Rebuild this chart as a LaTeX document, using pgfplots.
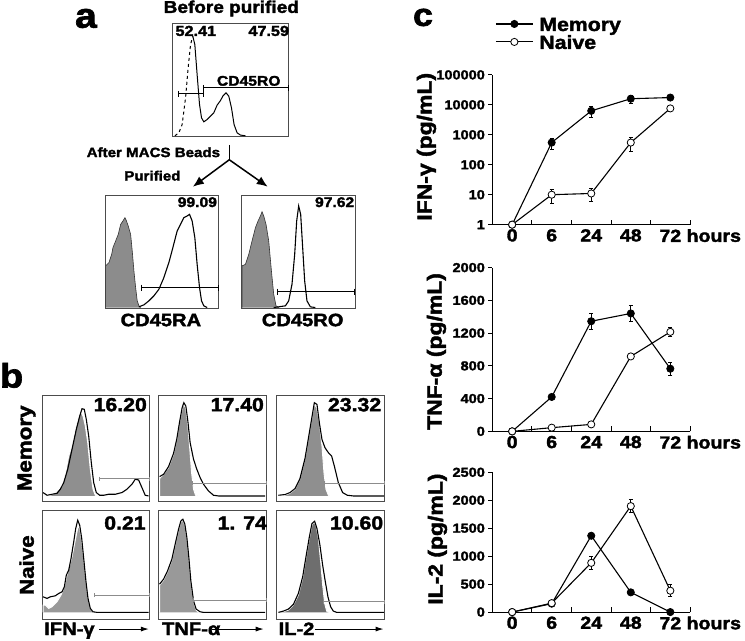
\documentclass[border=0pt]{standalone}
\usepackage{fontspec}
\setmainfont{Liberation Sans}[UprightFont=* Bold, FakeStretch=1.12, FakeBold=2]
\usepackage{pgfplots}
\pgfplotsset{compat=1.18}
\usetikzlibrary{arrows.meta}
\newcommand\fs[1]{\fontsize{#1}{#1}\selectfont}
\newcommand\xinticks{\draw[black, line width=1pt] (rel axis cs:0.2,0) -- ++(0pt,5pt) (rel axis cs:0.4,0) -- ++(0pt,5pt) (rel axis cs:0.6,0) -- ++(0pt,5pt) (rel axis cs:0.8,0) -- ++(0pt,5pt) (rel axis cs:1,0) -- ++(0pt,5pt);}
\definecolor{fa}{gray}{0.55}
\definecolor{fm}{gray}{0.56}
\definecolor{fn}{gray}{0.60}
\definecolor{fd}{gray}{0.43}
\definecolor{gatec}{gray}{0.55}
\pgfplotsset{
  hbox/.style={scale only axis, anchor=south west, y dir=reverse, xtick=\empty, ytick=\empty,
    axis line style={line width=0.9pt, black!70}, clip=false},
  hfill/.style={fill=#1, draw=white, line width=0.9pt, mark=none},
  afill/.style={fill=fa, draw=black!80, line width=0.6pt, mark=none},
  hline/.style={black, line width=1.1pt, mark=none},
  gate/.style={gatec, line width=1pt, mark=|, mark size=2pt},
  agate/.style={black, line width=0.9pt, mark=|, mark size=3pt},
  cax/.style={scale only axis, anchor=south west, width=198pt, axis lines*=left,
    xmin=-0.5, xmax=4.5, xtick={0,1,2,3,4}, xticklabels={0,6,24,48,{72\rlap{~hours}}},
    tick align=outside, major tick length=4pt, tick style={black, line width=1pt},
    major x tick style={draw=none},
    minor y tick style={draw=none},
    xticklabel style={font=\fs{17.5}, yshift=3pt}, yticklabel style={font=\fs{13}},
    axis line style={line width=1.1pt}, clip=false,
    /pgf/number format/assume math mode=true},
  mem/.style={black, line width=1.1pt, mark=*, mark size=3.6pt, mark options={fill=black, line width=0.8pt},
    error bars/.cd, y dir=both, y explicit, error bar style={line width=0.8pt, black},
    error mark options={rotate=90, mark size=2pt, line width=0.8pt, black}},
  nai/.style={black, line width=1.1pt, mark=*, mark size=3.6pt, mark options={fill=white, line width=0.8pt},
    error bars/.cd, y dir=both, y explicit, error bar style={line width=0.8pt, black},
    error mark options={rotate=90, mark size=2pt, line width=0.8pt, black}},
}
\begin{document}
\begin{tikzpicture}
\path (0pt,0pt) rectangle (745pt,641pt);

% ---------------- panel a ----------------
\begin{axis}[hbox, at={(172pt,504pt)}, width=116pt, height=114pt, xmin=172, xmax=288, ymin=23, ymax=137]
\addplot[black, line width=1pt, dashed, mark=none] coordinates {(174,136) (178,133) (181.3,124.7) (184.7,98) (187.3,68) (189.7,44.7) (192,36.3)};
\addplot[black, line width=1pt, mark=none] coordinates {(192,36.3) (194,44.7) (196.3,74.7) (198.7,104.7) (200.7,118) (203,122) (206.3,119.7) (209.7,116.3) (213,113) (216.3,105.3) (219.7,100.7) (222,96.3) (225.3,93) (228,96.3) (230.7,108) (233.3,124.7) (236.3,133) (239.7,135.3) (244.7,136)};
\addplot[agate] coordinates {(177.3,94) (203,94)};
\addplot[agate] coordinates {(203,88) (288,88)};
\end{axis}

\begin{axis}[hbox, at={(104pt,332pt)}, width=114pt, height=113pt, xmin=104, xmax=218, ymin=196, ymax=309]
\addplot[afill] coordinates {(104.7,308) (104.7,266.3) (108,263) (110.7,254.7) (112,248) (114.7,241.3) (117.3,234.7) (119.7,224.7) (122,221.3) (124,218) (125.3,220.7) (127.3,226.3) (129.7,234.7) (131.3,251.3) (133,271.3) (134.7,288) (136.3,301.3) (138,306.3) (139.7,308)};
\addplot[hline] coordinates {(138,307.3) (143,305.3) (148,301.3) (153,296.3) (158,289.7) (163,278) (168,263) (172,248) (176.3,231.3) (179.7,224.7) (183,218) (186.3,216.3) (188.7,214.7) (191.3,221.3) (194,238) (196.3,264.7) (198.7,288) (200.7,301.3) (203,306.3) (206.3,308)};
\addplot[agate] coordinates {(140.7,288) (218,288)};
\end{axis}

\begin{axis}[hbox, at={(241pt,332pt)}, width=114pt, height=113pt, xmin=241, xmax=355, ymin=196, ymax=309]
\addplot[afill] coordinates {(241.3,308) (241.3,266.3) (244.7,264.7) (248,254.7) (251.3,241.3) (254.7,228) (257.3,221.3) (259.7,216.3) (261.3,212) (263,216.3) (265.3,224.7) (268,241.3) (270.7,271.3) (273,294.7) (275.3,306.3) (278,308)};
\addplot[hline] coordinates {(273,308) (284.7,306.3) (288,301.3) (291.3,284.7) (294,254.7) (296,221.3) (298,206.3) (300,214.7) (302,248) (304,281.3) (306.3,301.3) (309.7,307.3) (314.7,308)};
\addplot[agate] coordinates {(276.3,292) (354,292)};
\end{axis}

% ---------------- panel b ----------------
\begin{axis}[hbox, at={(41pt,139pt)}, width=108pt, height=106pt, xmin=41, xmax=149, ymin=396, ymax=502]
\addplot[hfill=fm] coordinates {(42,496.7) (49.3,496) (54.3,494) (57.7,490) (61,486.7) (64.3,475) (67.7,456.7) (71,446.7) (74.3,430) (77.7,416.7) (80,412.7) (82,416.7) (84.3,426.7) (86.7,443.3) (89.3,470) (92,490) (94.3,496) (96,496.7)};
\addplot[hline] coordinates {(42,493.3) (46,496) (51,495) (56,494) (59.3,490) (62.7,483.3) (66.7,470) (71,450) (75.3,430) (78.7,416.7) (81,409.3) (83.3,410) (85.3,420) (87.7,436.7) (90.3,463.3) (92.7,483.3) (95.3,493.3) (98.7,496) (102.7,496) (107.7,495) (114.3,495) (121,493.3) (126,490) (131,485) (134.3,480) (137.7,480.7) (141,488.3) (144.3,496) (147.7,496.7)};
\addplot[gate] coordinates {(98.7,479.3) (148.3,479.3)};
\end{axis}

\begin{axis}[hbox, at={(158pt,139pt)}, width=108pt, height=106pt, xmin=158, xmax=266, ymin=396, ymax=502]
\addplot[hfill=fm] coordinates {(158.7,496.7) (158.7,479.3) (162.7,475) (167.7,468.3) (172.7,455) (176,440) (178.7,423.3) (181,411.7) (182.7,405) (184.7,408.3) (186.7,423.3) (188.7,446.7) (190.7,473.3) (192.7,490) (194.7,496) (196.7,496.7)};
\addplot[hline] coordinates {(158.7,477.3) (162.7,475) (167.7,467.3) (172.7,454) (176,439.3) (178.7,422.7) (181.3,408.3) (183,403.3) (185,406.7) (187,421.7) (189.3,443.3) (192.7,460) (196,470) (199.3,478.3) (202.7,485) (207.7,491.7) (212.7,496) (217.7,496.7) (264.3,496.7)};
\addplot[gate] coordinates {(192,484) (265.3,484)};
\end{axis}

\begin{axis}[hbox, at={(276pt,139pt)}, width=108pt, height=106pt, xmin=276, xmax=384, ymin=396, ymax=502]
\addplot[hfill=fm] coordinates {(277.7,496.7) (284.3,496) (289.3,494) (294.3,490) (299.3,480) (304.3,460) (307.7,440) (311,420) (313.7,405) (316,408.3) (318.7,423.3) (321.3,446.7) (323.3,473.3) (325.3,490) (327.7,496) (329.3,496.7)};
\addplot[hline] coordinates {(277.7,496) (284.3,495.3) (289.3,493.3) (294.3,489.3) (299.3,479.3) (304.3,459.3) (307.7,439.3) (311,419.3) (313.7,403.3) (316.3,405) (318.7,423.3) (321.3,440) (324.3,448.3) (327.7,453.3) (331,456.7) (333.7,466.7) (337.7,483.3) (342,493.3) (346.7,496) (352.7,496.7) (383.3,496.7)};
\addplot[gate] coordinates {(324.3,484) (384,484)};
\end{axis}

\begin{axis}[hbox, at={(41pt,21pt)}, width=108pt, height=109pt, xmin=41, xmax=149, ymin=511, ymax=620]
\addplot[hfill=fn] coordinates {(42,613.3) (42,606) (44.3,606) (47.7,609.3) (51,607.7) (56,602.7) (60,596) (63.3,587.7) (66,576) (68.7,566) (71,557.7) (73.3,546) (75.3,536) (77,527.7) (78.7,529.3) (80.3,539.3) (82.7,559.3) (85,582.7) (87,599.3) (89.3,609.3) (92,612.7) (93.3,613.3)};
\addplot[hline] coordinates {(42,597.7) (46,599.3) (49.3,597.7) (54.3,596.7) (57.7,594.3) (61,592.7) (63.3,587.7) (65.3,576) (67.7,571) (70,559.3) (72.7,542.7) (74.7,529.3) (76.7,521) (78.7,526) (80.7,539.3) (82.7,559.3) (85,582.7) (87,599.3) (89.3,609.3) (92,612.7) (96,613.3) (147.7,613.3)};
\addplot[gate] coordinates {(93.3,596) (148.3,596)};
\end{axis}

\begin{axis}[hbox, at={(158pt,21pt)}, width=108pt, height=109pt, xmin=158, xmax=266, ymin=511, ymax=620]
\addplot[hfill=fn] coordinates {(158.7,613.3) (158.7,586) (162.7,581) (166.7,572.7) (171,561) (174.3,546) (177.7,531) (180,522.7) (182,521) (184,526) (186,539.3) (188,559.3) (190,582.7) (192.7,602.7) (195.3,611) (197.7,613.3)};
\addplot[hline] coordinates {(158.7,585) (162.7,580) (166.7,571.7) (171,560) (174.3,545) (177.7,530) (180,521.7) (182,520) (184,525) (186,538.3) (188,558.3) (190,581.7) (192.7,601.7) (195.3,610) (199.3,612.7) (202.7,613.3) (264.3,613.3)};
\addplot[gate] coordinates {(192.7,601) (265.3,601)};
\end{axis}

\begin{axis}[hbox, at={(276pt,21pt)}, width=108pt, height=109pt, xmin=276, xmax=384, ymin=511, ymax=620]
\addplot[hfill=fd] coordinates {(277.7,613.3) (282.7,612.7) (287.7,611) (292.7,606) (297.7,596) (302,579.3) (305.3,559.3) (308.7,539.3) (311.3,526) (313.3,522.7) (315.3,526) (317.7,539.3) (320,562.7) (322,586) (324,604.3) (326,612) (328,613.3)};
\addplot[hline] coordinates {(277.7,613.3) (282.7,612) (287.7,610) (292.7,605.3) (297.7,594.3) (302,577.7) (305.3,557.7) (308.7,537.7) (311.3,524.3) (314,522) (316.3,529.3) (319.3,546) (322,566) (324.7,582.7) (327.3,597.7) (330,607.7) (332.7,612) (336,613.3) (383.3,613.3)};
\addplot[gate] coordinates {(322.7,602.7) (384,602.7)};
\end{axis}

% ---------------- panel c ----------------
\begin{axis}[cax, at={(492pt,416pt)}, height=150pt, ymode=log, ymin=1, ymax=100000,
  ytick={1,10,100,1000,10000,100000}, yticklabels={1,10,100,1000,10000,100000},
  legend style={at={(axis description cs:0.015,1.28)}, anchor=west, draw=none, fill=none,
    inner sep=0pt, outer sep=0pt, row sep=4pt, font=\fs{19},
    nodes={inner sep=0pt, text height=14pt, text depth=0pt},
    /tikz/every odd column/.append style={column sep=6pt}},
  legend cell align=left,
  legend image code/.code={\draw[mark repeat=2,mark phase=2,#1] plot coordinates {(0pt,0pt) (18.5pt,0pt) (37pt,0pt)};}]
\addplot[mem] coordinates {(0,1) +- (0,0) (1,550) +- (0,230) (2,6300) +- (0,2500) (3,16000) +- (0,5000) (4,17500) +- (0,2000)};
\addplot[nai] coordinates {(0,1) +- (0,0) (1,10) +- (0,5) (2,11) +- (0,5) (3,550) +- (0,280) (4,7600) +- (0,1500)};
\legend{Memory, Naive}
\xinticks
\end{axis}

\begin{axis}[cax, at={(492pt,209pt)}, height=164pt, ymin=0, ymax=2000,
  ytick={0,400,800,1200,1600,2000}, yticklabels={0,400,800,1200,1600,2000}]
\addplot[mem] coordinates {(0,0) +- (0,0) (1,420) +- (0,20) (2,1345) +- (0,100) (3,1440) +- (0,100) (4,765) +- (0,80)};
\addplot[nai] coordinates {(0,0) +- (0,0) (1,45) +- (0,10) (2,85) +- (0,10) (3,915) +- (0,30) (4,1215) +- (0,50)};
\xinticks
\end{axis}

\begin{axis}[cax, at={(492pt,28pt)}, height=140pt, ymin=0, ymax=2500,
  ytick={0,500,1000,1500,2000,2500}, yticklabels={0,500,1000,1500,2000,2500}]
\addplot[mem] coordinates {(0,0) +- (0,0) (1,150) +- (0,20) (2,1365) +- (0,40) (3,353) +- (0,30) (4,0) +- (0,0)};
\addplot[nai] coordinates {(0,0) +- (0,0) (1,160) +- (0,20) (2,880) +- (0,110) (3,1895) +- (0,120) (4,382) +- (0,110)};
\xinticks
\end{axis}

% ---------------- texts and annotations (pixel coordinates, origin top-left) ----------------
\begin{scope}[shift={(0pt,641pt)}, x=1pt, y=-1pt]
\node[font=\fs{35}, inner sep=0pt] at (85,18.5) {a};
\node[font=\fs{17}, inner sep=0pt] at (230.5,8.5) {Before purified};
\node[font=\fs{14.5}, inner sep=0pt] at (195,31) {52.41};
\node[font=\fs{14.5}, inner sep=0pt] at (268,31) {47.59};
\node[font=\fs{14}, inner sep=0pt] at (248,81) {CD45RO};
\node[font=\fs{13.5}, inner sep=0pt] at (152.5,152.5) {After MACS Beads};
\node[font=\fs{13.5}, inner sep=0pt] at (151.5,176) {Purified};
\draw[line width=1.5pt] (228.5,145) -- (228.5,160);
\draw[line width=1.5pt, -{Latex[length=11pt,width=9pt]}] (228.5,160) -- (192,187);
\draw[line width=1.5pt, -{Latex[length=11pt,width=9pt]}] (228.5,160) -- (267,187);
\node[font=\fs{14}, inner sep=0pt] at (196.5,202.5) {99.09};
\node[font=\fs{14}, inner sep=0pt] at (334,202.5) {97.62};
\node[font=\fs{18}, inner sep=0pt] at (160,320.5) {CD45RA};
\node[font=\fs{18}, inner sep=0pt] at (302,320.5) {CD45RO};

\node[font=\fs{34}, inner sep=0pt] at (10.5,376) {b};
\node[font=\fs{20}, inner sep=0pt, rotate=90] at (25.5,449) {Memory};
\node[font=\fs{20}, inner sep=0pt, rotate=90] at (25.5,566) {Naive};
\node[font=\fs{19}, inner sep=0pt] at (119.3,405.3) {16.20};
\node[font=\fs{19}, inner sep=0pt] at (236.5,405.3) {17.40};
\node[font=\fs{19}, inner sep=0pt] at (354,405.3) {23.32};
\node[font=\fs{19}, inner sep=0pt] at (124,523.8) {0.21};
\node[font=\fs{19}, inner sep=0pt] at (241.5,523.8) {1. 74};
\node[font=\fs{19}, inner sep=0pt] at (356,523.8) {10.60};
\node[font=\fs{18}, inner sep=0pt, anchor=base west] at (43,636) {IFN-γ};
\node[font=\fs{18}, inner sep=0pt, anchor=base west] at (161,636) {TNF-α};
\node[font=\fs{18}, inner sep=0pt, anchor=base west] at (277.7,636) {IL-2};
\draw[line width=1pt, -{Latex[length=8pt,width=5pt]}] (98,630) -- (148,630);
\draw[line width=1pt, -{Latex[length=8pt,width=5pt]}] (211,630) -- (263,630);
\draw[line width=1pt, -{Latex[length=8pt,width=5pt]}] (314,630) -- (383,630);

\node[font=\fs{32}, inner sep=0pt] at (422.5,17.5) {c};
\node[font=\fs{20.5}, inner sep=0pt, rotate=90] at (426,147) {IFN-γ (pg/mL)};
\node[font=\fs{20.5}, inner sep=0pt, rotate=90] at (436,352) {TNF-α (pg/mL)};
\node[font=\fs{20.5}, inner sep=0pt, rotate=90] at (437,540) {IL-2 (pg/mL)};
\end{scope}
\end{tikzpicture}
\end{document}
